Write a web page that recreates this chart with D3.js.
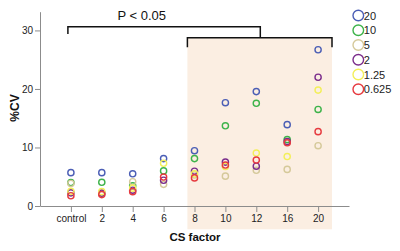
<!DOCTYPE html>
<html><head><meta charset="utf-8">
<script src="https://cdn.jsdelivr.net/npm/d3@7"></script>
<style>body{margin:0;background:#fff}svg{display:block;font-family:Arial,"Liberation Sans",sans-serif}</style>
</head><body><div id="chart"></div>
<script>
const categories = ["control","2","4","6","8","10","12","16","20"];
const seriesNames = ["20","10","5","2","1.25","0.625"];
const seriesColors = ["#4b5eb5","#3db34a","#d5c99a","#7b2d8b","#f3ef5a","#e63a3f"];
const s20   = [5.7, 5.7, 5.5, 8.1, 9.45, 17.65, 19.55, 13.9, 26.7];
const s10   = [4.0, 4.05, 3.45, 6.0, 8.1, 13.7, 17.55, 11.35, 16.5];
const s5    = [3.85, 2.1, 4.15, 3.7, 5.3, 5.1, 6.1, 6.25, 10.3];
const s2    = [2.25, 2.2, 2.7, 4.4, 5.95, 7.5, 6.8, 11.0, 22.0];
const s125  = [2.5, 2.45, 3.05, 7.3, 5.5, 6.75, 9.05, 8.45, 19.8];
const s0625 = [1.75, 1.95, 2.45, 4.95, 4.8, 7.0, 7.85, 10.8, 12.7];
const seriesValues = [s20, s10, s5, s2, s125, s0625];
const yTicks = [0, 10, 20, 30];
const pLabel = "P < 0.05";
const xTitle = "CS factor";
const yTitle = "%CV";

const W = 400, H = 251;
const svg = d3.select("#chart").append("svg").attr("width", W).attr("height", H);

const x = d3.scalePoint().domain(categories).range([40, 349]).padding(1);
const y = d3.scaleLinear().domain([0, 33.2]).range([206, 11.7]);
const step = x.step();

// shaded region
const shX0 = x("8") - step * 0.23, shX1 = x("20") + step * 0.45;
svg.append("rect").attr("x", shX0).attr("y", 37.7)
  .attr("width", shX1 - shX0).attr("height", 229.3 - 37.7)
  .attr("fill", "#fbeee2");

// axes
const axisColor = "#8c8c8c";
const gx = svg.append("g").attr("transform", "translate(0,206)")
  .call(d3.axisBottom(x).tickSize(6).tickPadding(3).tickSizeOuter(0));
const gy = svg.append("g").attr("transform", "translate(40,0)")
  .call(d3.axisLeft(y).tickValues(yTicks).tickSize(5).tickPadding(2).tickSizeOuter(0));
[gx, gy].forEach(g => {
  g.select(".domain").attr("stroke", axisColor);
  g.selectAll(".tick line").attr("stroke", axisColor);
  g.selectAll("text").attr("fill", "#222").style("font-size", "10px").style("font-family", "Arial, 'Liberation Sans', sans-serif");
});
gx.selectAll("text").attr("dy", "0.71em");

// points
seriesValues.forEach((vals, si) => {
  svg.append("g").selectAll("circle").data(vals).join("circle")
    .attr("cx", (d, i) => x(categories[i]))
    .attr("cy", d => y(d))
    .attr("r", 3.1)
    .attr("fill", "none")
    .attr("stroke", seriesColors[si])
    .attr("stroke-width", 1.4);
});

// brackets
const b1L = x("control") - 3, b1R = x("12") + 4;
svg.append("path")
  .attr("d", `M${b1L},34 V26.7 H${b1R} V37.7`)
  .attr("fill", "none").attr("stroke", "#111").attr("stroke-width", 1.5);
svg.append("path")
  .attr("d", `M${shX0},47.3 V37.7 H${shX1} V47.3`)
  .attr("fill", "none").attr("stroke", "#111").attr("stroke-width", 1.5);

svg.append("text").attr("x", 141.7).attr("y", 20).attr("text-anchor", "middle")
  .style("font-size", "13px").attr("fill", "#111").text(pLabel);

// titles
svg.append("text").attr("x", 195).attr("y", 240.5).attr("text-anchor", "middle")
  .style("font-size", "11.5px").style("font-weight", "bold").attr("fill", "#111").text(xTitle);
svg.append("text").attr("transform", "translate(18.5,108) rotate(-90)").attr("text-anchor", "middle")
  .style("font-size", "12px").style("font-weight", "bold").attr("fill", "#111").text(yTitle);

// legend
const lg = svg.append("g");
seriesNames.forEach((nm, i) => {
  const cy = 15.5 + i * 14.75;
  lg.append("circle").attr("cx", 358.3).attr("cy", cy).attr("r", 5.3)
    .attr("fill", "none").attr("stroke", seriesColors[i]).attr("stroke-width", 1.4);
  lg.append("text").attr("x", 363.8).attr("y", cy + 4).style("font-size", "11px")
    .attr("fill", "#222").text(nm);
});
</script></body></html>
